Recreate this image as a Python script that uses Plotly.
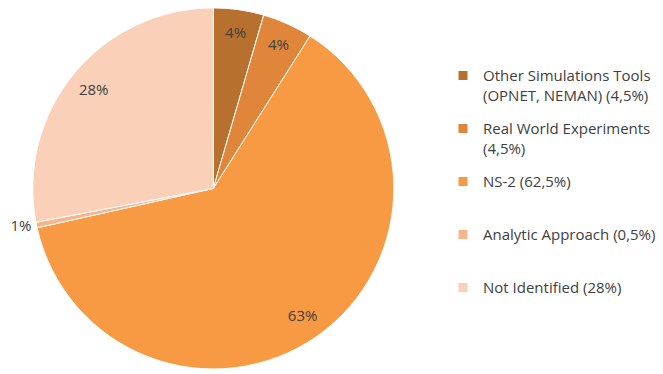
import plotly.graph_objects as go

categories = [
    "Other Simulations Tools<br>(OPNET, NEMAN) (4,5%)",
    "Real World Experiments<br>(4,5%)",
    "NS-2 (62,5%)",
    "Analytic Approach (0,5%)",
    "Not Identified (28%)",
]
values = [4.5, 4.5, 62.5, 0.5, 28.0]
slice_labels = ["4%", "4%", "63%", "1%", "28%"]
colors = ["#B8702F", "#E0863B", "#F79A43", "#FAB48B", "#FBD0B9"]
text_positions = ["inside", "inside", "inside", "outside", "inside"]

W, H = 663, 374
cx, cy, r = 213.3, 191.0, 183
dom_x = [(cx - r) / W, (cx + r) / W]
dom_y = [max(0, (H - cy - r) / H), min(1, (H - cy + r) / H)]

FONT = "Open Sans"
TXT = "#404040"

fig = go.Figure()
# visible pie slices
fig.add_trace(
    go.Pie(
        labels=categories,
        values=values,
        textinfo="none",
        sort=False,
        direction="clockwise",
        rotation=0,
        marker=dict(colors=colors, line=dict(color="white", width=1)),
        domain=dict(x=dom_x, y=dom_y),
        showlegend=False,
        hoverinfo="label+percent",
    )
)
# transparent ring used only to place the data labels near the rim
fig.add_trace(
    go.Pie(
        labels=categories,
        values=values,
        text=slice_labels,
        textinfo="text",
        textposition=text_positions,
        insidetextorientation="horizontal",
        hole=0.72,
        sort=False,
        direction="clockwise",
        rotation=0,
        marker=dict(colors=["rgba(0,0,0,0)"] * len(values), line=dict(width=0)),
        textfont=dict(family=FONT, size=15, color=TXT),
        domain=dict(x=dom_x, y=dom_y),
        showlegend=False,
        hoverinfo="skip",
    )
)
# legend entries (one group per category so they are spaced evenly)
for i, (name, col) in enumerate(zip(categories, colors)):
    label = name if "<br>" in name else name + "<br> "
    fig.add_trace(
        go.Scatter(
            x=[None], y=[None], mode="markers", name=label,
            marker=dict(symbol="square", size=9, color=col),
            legendgroup=f"g{i}", showlegend=True, hoverinfo="skip",
        )
    )

fig.update_layout(
    width=W,
    height=H,
    margin=dict(l=0, r=0, t=0, b=0),
    paper_bgcolor="white",
    plot_bgcolor="white",
    xaxis=dict(visible=False),
    yaxis=dict(visible=False),
    showlegend=True,
    legend=dict(
        x=443 / W,
        y=1 - 60 / H,
        xanchor="left",
        yanchor="top",
        valign="top",
        font=dict(family=FONT, size=15, color=TXT),
        itemwidth=30,
        tracegroupgap=11,
        traceorder="grouped",
    ),
)

fig.write_html("out.html")
